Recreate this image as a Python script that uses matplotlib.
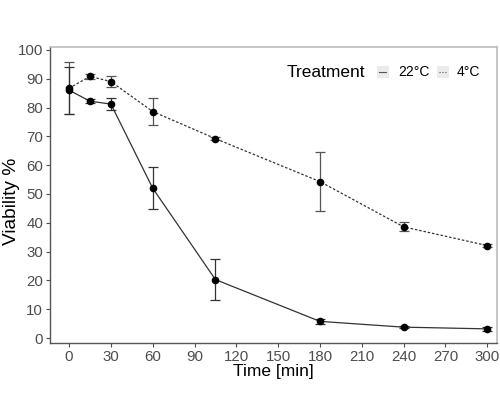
import numpy as np
import matplotlib.pyplot as plt
from matplotlib.lines import Line2D
from matplotlib.patches import Rectangle

plt.rcParams['font.family'] = ['Liberation Sans', 'DejaVu Sans']

time = [0, 15, 30, 60, 105, 180, 240, 300]
warm = [86.0, 82.2, 81.2, 52.0, 20.3, 5.8, 3.8, 3.2]
warm_err = [8.2, 0.6, 2.1, 7.3, 7.1, 0.9, 0.4, 0.6]
cold = [86.7, 90.8, 89.0, 78.6, 69.2, 54.3, 38.6, 32.1]
cold_err = [9.1, 0.8, 1.9, 4.6, 0.6, 10.2, 1.6, 0.4]

xticks = np.arange(0, 301, 30)
yticks = np.arange(0, 101, 10)

fig = plt.figure(figsize=(5, 4), dpi=100)
ax = fig.add_axes([0.1, 0.1425, 0.894, 0.74])

ax.errorbar(time, cold, yerr=cold_err, color='#333333', ls=(0, (2, 1.5)), lw=0.9,
            ecolor='#555555', elinewidth=0.9, capsize=3.5, capthick=0.9,
            marker='o', ms=4.5, mfc='black', mec='black')
ax.errorbar(time, warm, yerr=warm_err, color='#333333', ls='-', lw=0.9,
            ecolor='#333333', elinewidth=0.9, capsize=3.5, capthick=0.9,
            marker='o', ms=4.5, mfc='black', mec='black')

ax.set_xlim(-13.7, 307)
ax.set_ylim(-1.7, 101)
ax.set_xticks(xticks)
ax.set_yticks(yticks)
ax.tick_params(labelsize=10.8, colors='#4d4d4d', length=3, width=0.8, pad=2)
for s in ['top', 'right']:
    ax.spines[s].set_color('#bbbbbb')
    ax.spines[s].set_linewidth(1.2)
for s in ['left', 'bottom']:
    ax.spines[s].set_color('#555555')
    ax.spines[s].set_linewidth(1.0)

ax.set_xlabel('Time [min]', fontsize=12.5, labelpad=0)
ax.set_ylabel('Viability %', fontsize=13.8)
ax.yaxis.set_label_coords(-0.068, 0.48)

# legend drawn inside the panel, horizontal like the reference
ax.text(0.530, 0.9155, 'Treatment', transform=ax.transAxes, fontsize=12.5,
        va='center', ha='left')
for xk, xt, lbl, ls in [(0.7315, 0.778, '22°C', '-'), (0.866, 0.910, '4°C', ':')]:
    ax.add_patch(Rectangle((xk, 0.895), 0.026, 0.042, transform=ax.transAxes,
                           facecolor='#ebebeb', edgecolor='none'))
    ax.add_line(Line2D([xk + 0.005, xk + 0.021], [0.916, 0.916],
                       transform=ax.transAxes, color='#555555', lw=0.8, ls=ls))
    ax.text(xt, 0.9155, lbl, transform=ax.transAxes, fontsize=10,
            va='center', ha='left')

fig.savefig('out.png', dpi=100)
